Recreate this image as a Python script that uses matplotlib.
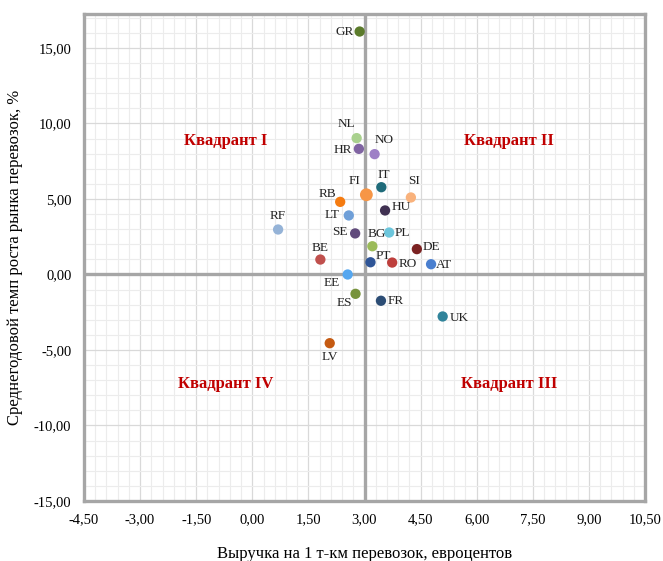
import numpy as np
import matplotlib
matplotlib.use('Agg')
import matplotlib.pyplot as plt
from matplotlib.ticker import MultipleLocator, FuncFormatter

plt.rcParams['font.family'] = ['Liberation Serif', 'DejaVu Serif']

# country codes, revenue per t-km (euro cents), avg annual growth (%)
codes = ['GR', 'NL', 'HR', 'NO', 'IT', 'FI', 'SI', 'RB', 'HU', 'LT', 'RF', 'SE',
         'PL', 'BG', 'DE', 'BE', 'PT', 'RO', 'AT', 'EE', 'ES', 'FR', 'UK', 'LV']
revenue = [2.87, 2.79, 2.85, 3.27, 3.45, 3.05, 4.24, 2.35, 3.55, 2.58, 0.69, 2.75,
           3.66, 3.21, 4.40, 1.82, 3.16, 3.74, 4.78, 2.55, 2.76, 3.44, 5.09, 2.07]
growth = [16.09, 9.03, 8.32, 7.97, 5.78, 5.28, 5.10, 4.81, 4.24, 3.91, 2.98, 2.72,
          2.78, 1.87, 1.68, 0.99, 0.81, 0.79, 0.68, 0.00, -1.28, -1.74, -2.78, -4.55]
colors = ['#5b7b2b', '#a9d18e', '#8064a2', '#9e80c6', '#1f6b7a', '#f79646', '#f9b27c',
          '#f57b10', '#403152', '#6f9fd8', '#95b3d7', '#604a7b', '#6cc6dc', '#9bbb59',
          '#7b2222', '#c0504d', '#2f5597', '#be3f3c', '#4a7fcf', '#55a7f0', '#77933c',
          '#2c4d75', '#31849b', '#c55a11']
sizes = [55] * len(codes)
sizes[codes.index('FI')] = 85

# label placement: (dx px, dy px, ha)
offs = {'GR': (-6, 0, 'right'), 'NL': (-10, 14, 'center'), 'HR': (-7, -1, 'right'),
        'NO': (10, 14, 'center'), 'IT': (2, 12, 'center'), 'FI': (-12, 14, 'center'),
        'SI': (3, 16, 'center'), 'RB': (-13, 8, 'center'), 'HU': (7, 3, 'left'),
        'LT': (-9, 0, 'right'), 'RF': (0, 13, 'center'), 'SE': (-8, 1, 'right'),
        'PL': (5, 0, 'left'), 'BG': (4, 12, 'center'), 'DE': (6, 2, 'left'),
        'BE': (0, 12, 'center'), 'PT': (5, 6, 'left'), 'RO': (6, -1, 'left'),
        'AT': (5, -1, 'left'), 'EE': (-8, -9, 'right'), 'ES': (-11, -9, 'center'),
        'FR': (7, 0, 'left'), 'UK': (7, -2, 'left'), 'LV': (0, -14, 'center')}

W, H = 663, 561
fig = plt.figure(figsize=(W/100, H/100), dpi=100)
ax = fig.add_axes([84/W, (H-501)/H, (645-84)/W, (501-14)/H])

ax.set_xlim(-4.5, 10.5)
ax.set_ylim(-15, 17.25)
ax.xaxis.set_major_locator(MultipleLocator(1.5))
ax.xaxis.set_minor_locator(MultipleLocator(0.3))
ax.yaxis.set_major_locator(MultipleLocator(5))
ax.yaxis.set_minor_locator(MultipleLocator(1))
fmt = FuncFormatter(lambda v, p: '{:.2f}'.format(v).replace('.', ','))
ax.xaxis.set_major_formatter(fmt)
ax.yaxis.set_major_formatter(fmt)
ax.grid(which='major', color='#d9d9d9', lw=0.9)
ax.grid(which='minor', color='#ececec', lw=0.8)
ax.set_axisbelow(True)
ax.tick_params(which='both', length=0, labelsize=10.5)
ax.tick_params(axis='x', pad=9)
ax.tick_params(axis='y', pad=9)
for s in ax.spines.values():
    s.set_color('#a6a6a6')
    s.set_linewidth(2.4)

ax.axvline(3.0, color='#a6a6a6', lw=2.4, zorder=1)
ax.axhline(0.0, color='#a6a6a6', lw=2.4, zorder=1)

ax.scatter(revenue, growth, s=sizes, c=colors, zorder=3, linewidths=0)
for code, xv, yv in zip(codes, revenue, growth):
    dx, dy, ha = offs[code]
    ax.annotate(code, (xv, yv), xytext=(dx, dy), textcoords='offset pixels',
                ha=ha, va='center', fontsize=9.5, color='#222222')

qkw = dict(color='#c00000', fontsize=12, fontweight='bold', ha='center', va='center')
ax.text(-0.70, 8.87, 'Квадрант I', **qkw)
ax.text(6.86, 8.87, 'Квадрант II', **qkw)
ax.text(-0.70, -7.22, 'Квадрант IV', **qkw)
ax.text(6.86, -7.22, 'Квадрант III', **qkw)

ax.set_xlabel('Выручка на 1 т-км перевозок, евроцентов', fontsize=12, labelpad=14)
ax.set_ylabel('Среднегодовой темп роста рынка перевозок, %', fontsize=12, labelpad=8)

fig.savefig('out.png', dpi=100)
